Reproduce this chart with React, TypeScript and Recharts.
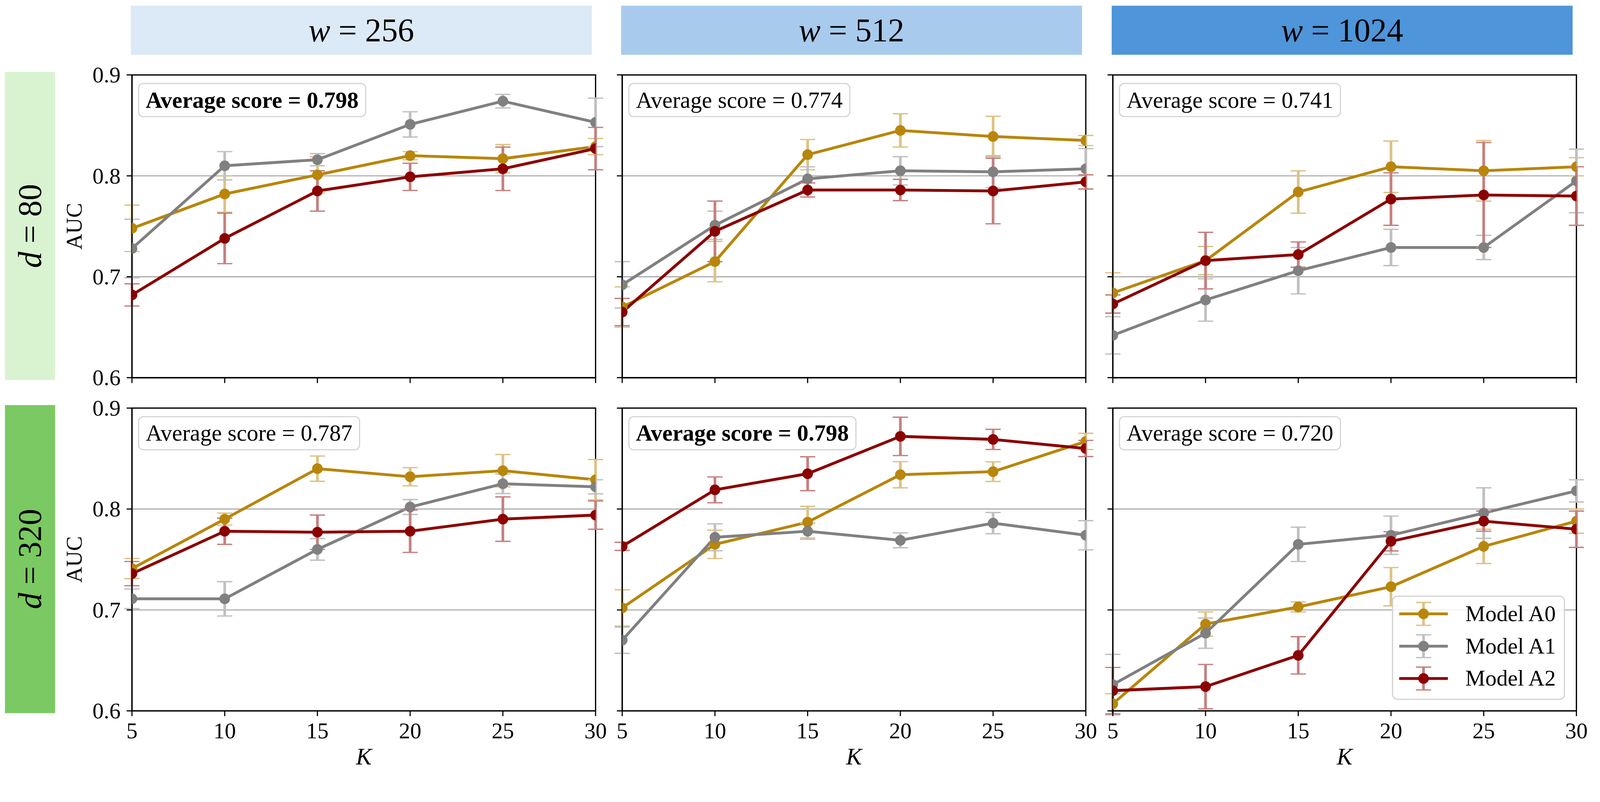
import React from 'react';
import { LineChart, Line, XAxis, YAxis, CartesianGrid, ErrorBar, Legend, ReferenceArea } from 'recharts';

// ---------- data ----------
const K_VALUES = [5, 10, 15, 20, 25, 30];
const Y_TICKS = [0.6, 0.7, 0.8, 0.9];
const GRID_VALUES = [0.7, 0.8];
const W_LABELS = ['256', '512', '1024'];
const D_LABELS = ['80', '320'];
const MODEL_NAMES = ['Model A0', 'Model A1', 'Model A2'];

// d = 80
const D80_W256_A0 = [0.748, 0.782, 0.801, 0.820, 0.817, 0.829];
const D80_W256_A0_ERR = [0.023, 0.018, 0.018, 0.004, 0.014, 0.008];
const D80_W256_A1 = [0.728, 0.810, 0.816, 0.851, 0.874, 0.853];
const D80_W256_A1_ERR = [0.029, 0.014, 0.006, 0.0125, 0.0067, 0.024];
const D80_W256_A2 = [0.682, 0.738, 0.785, 0.799, 0.807, 0.827];
const D80_W256_A2_ERR = [0.011, 0.025, 0.020, 0.0135, 0.0215, 0.021];

const D80_W512_A0 = [0.670, 0.715, 0.821, 0.845, 0.839, 0.835];
const D80_W512_A0_ERR = [0.020, 0.020, 0.015, 0.0165, 0.020, 0.005];
const D80_W512_A1 = [0.692, 0.751, 0.797, 0.805, 0.804, 0.807];
const D80_W512_A1_ERR = [0.023, 0.014, 0.012, 0.014, 0.016, 0.020];
const D80_W512_A2 = [0.665, 0.745, 0.786, 0.786, 0.785, 0.794];
const D80_W512_A2_ERR = [0.0135, 0.030, 0.007, 0.0105, 0.0325, 0.007];

const D80_W1024_A0 = [0.684, 0.716, 0.784, 0.809, 0.805, 0.809];
const D80_W1024_A0_ERR = [0.020, 0.014, 0.021, 0.0255, 0.030, 0.009];
const D80_W1024_A1 = [0.642, 0.677, 0.706, 0.729, 0.729, 0.795];
const D80_W1024_A1_ERR = [0.0185, 0.021, 0.023, 0.018, 0.012, 0.0315];
const D80_W1024_A2 = [0.673, 0.716, 0.722, 0.777, 0.781, 0.780];
const D80_W1024_A2_ERR = [0.009, 0.028, 0.0125, 0.026, 0.052, 0.029];

// d = 320
const D320_W256_A0 = [0.741, 0.790, 0.840, 0.832, 0.838, 0.829];
const D320_W256_A0_ERR = [0.010, 0.006, 0.0125, 0.009, 0.016, 0.020];
const D320_W256_A1 = [0.711, 0.711, 0.760, 0.802, 0.825, 0.822];
const D320_W256_A1_ERR = [0.0097, 0.017, 0.0107, 0.0074, 0.0097, 0.007];
const D320_W256_A2 = [0.736, 0.778, 0.777, 0.778, 0.790, 0.794];
const D320_W256_A2_ERR = [0.012, 0.013, 0.017, 0.021, 0.022, 0.014];

const D320_W512_A0 = [0.702, 0.765, 0.787, 0.834, 0.837, 0.867];
const D320_W512_A0_ERR = [0.018, 0.014, 0.0156, 0.013, 0.0097, 0.008];
const D320_W512_A1 = [0.670, 0.772, 0.778, 0.769, 0.786, 0.774];
const D320_W512_A1_ERR = [0.013, 0.0133, 0.008, 0.0074, 0.0105, 0.0145];
const D320_W512_A2 = [0.763, 0.819, 0.835, 0.872, 0.869, 0.860];
const D320_W512_A2_ERR = [0.004, 0.0128, 0.0168, 0.019, 0.010, 0.008];

const D320_W1024_A0 = [0.607, 0.686, 0.703, 0.723, 0.763, 0.788];
const D320_W1024_A0_ERR = [0.010, 0.012, 0.005, 0.019, 0.017, 0.012];
const D320_W1024_A1 = [0.626, 0.677, 0.765, 0.774, 0.796, 0.818];
const D320_W1024_A1_ERR = [0.030, 0.015, 0.017, 0.019, 0.025, 0.011];
const D320_W1024_A2 = [0.620, 0.624, 0.655, 0.768, 0.788, 0.780];
const D320_W1024_A2_ERR = [0.023, 0.022, 0.0185, 0.0095, 0.010, 0.018];

const AVG_SCORES = [
  ['0.798', '0.774', '0.741'],
  ['0.787', '0.798', '0.720'],
];
const AVG_BOLD = [
  [true, false, false],
  [false, true, false],
];

const PANEL_SERIES = [
  [
    { means: [D80_W256_A0, D80_W256_A1, D80_W256_A2], errs: [D80_W256_A0_ERR, D80_W256_A1_ERR, D80_W256_A2_ERR] },
    { means: [D80_W512_A0, D80_W512_A1, D80_W512_A2], errs: [D80_W512_A0_ERR, D80_W512_A1_ERR, D80_W512_A2_ERR] },
    { means: [D80_W1024_A0, D80_W1024_A1, D80_W1024_A2], errs: [D80_W1024_A0_ERR, D80_W1024_A1_ERR, D80_W1024_A2_ERR] },
  ],
  [
    { means: [D320_W256_A0, D320_W256_A1, D320_W256_A2], errs: [D320_W256_A0_ERR, D320_W256_A1_ERR, D320_W256_A2_ERR] },
    { means: [D320_W512_A0, D320_W512_A1, D320_W512_A2], errs: [D320_W512_A0_ERR, D320_W512_A1_ERR, D320_W512_A2_ERR] },
    { means: [D320_W1024_A0, D320_W1024_A1, D320_W1024_A2], errs: [D320_W1024_A0_ERR, D320_W1024_A1_ERR, D320_W1024_A2_ERR] },
  ],
];

// ---------- styles ----------
const FIG_W = 4207;
const FIG_H = 2053;
const FONT = '"Liberation Serif", "Times New Roman", "DejaVu Serif", serif';
const MODEL_COLORS = ['#b8860b', '#808080', '#8b0000'];
// error bar colours: the line colours at half opacity over white
const ERR_COLORS = ['#dcc385', '#c0c0c0', '#c58080'];
const HEADER_COLORS = ['#dce9f6', '#a8cbed', '#4f95da'];
const ROW_COLORS = ['#d9f2d0', '#7bc962'];

const COL_LEFT = [347, 1636, 2926];
const ROW_TOP = [197, 1073];
const PLOT_W = 1219;
const PLOT_H = 796;

const LINE_W = 7.5;
const DOT_R = 14;
const CAP_HALF = 20;
const CAP_W = 3.5;
const BAR_W = 7;
const FRAME_W = 3.3;
const TICK_FONT = 59;

function buildRows(panel) {
  return K_VALUES.map((k, i) => ({
    k,
    m0: panel.means[0][i], e0: panel.errs[0][i],
    m1: panel.means[1][i], e1: panel.errs[1][i],
    m2: panel.means[2][i], e2: panel.errs[2][i],
  }));
}

function XTick(props) {
  const { x, y, payload, show } = props;
  if (!show) return null;
  return (
    <text x={x} y={y + 58} textAnchor="middle" fontFamily={FONT} fontSize={TICK_FONT} fill="#000">
      {String(payload.value)}
    </text>
  );
}

function YTick(props) {
  const { x, y, payload, show } = props;
  if (!show) return null;
  return (
    <text x={x} y={y + 20} textAnchor="end" fontFamily={FONT} fontSize={TICK_FONT} fill="#000">
      {Number(payload.value).toFixed(1)}
    </text>
  );
}

function LegendIcon({ color, errColor }) {
  return (
    <svg width={130} height={84} style={{ display: 'block' }}>
      <line x1={64} x2={64} y1={12} y2={72} stroke={errColor} strokeWidth={BAR_W} />
      <line x1={64 - CAP_HALF} x2={64 + CAP_HALF} y1={12} y2={12} stroke={errColor} strokeWidth={CAP_W} />
      <line x1={64 - CAP_HALF} x2={64 + CAP_HALF} y1={72} y2={72} stroke={errColor} strokeWidth={CAP_W} />
      <line x1={0} x2={128} y1={42} y2={42} stroke={color} strokeWidth={LINE_W} />
      <circle cx={64} cy={42} r={DOT_R} fill={color} />
    </svg>
  );
}

function LegendBox(props) {
  const payload = props.payload || [];
  return (
    <div
      style={{
        width: 455,
        height: 274,
        boxSizing: 'border-box',
        border: '3px solid #d0d0d0',
        borderRadius: 14,
        background: 'rgba(255,255,255,0.85)',
        paddingTop: 2,
        fontFamily: FONT,
      }}
    >
      {payload.map((entry, i) => {
        const idx = MODEL_NAMES.indexOf(entry.value);
        return (
          <div key={i} style={{ display: 'flex', alignItems: 'center', height: 85, paddingLeft: 16 }}>
            <LegendIcon color={entry.color} errColor={ERR_COLORS[idx >= 0 ? idx : i]} />
            <span style={{ fontSize: 59, color: '#000', marginLeft: 44, lineHeight: 1 }}>{entry.value}</span>
          </div>
        );
      })}
    </div>
  );
}

function Panel({ row, col }) {
  const ml = col === 0 ? 247 : 40;
  const mt = 40;
  const mr = 40;
  const mb = row === 1 ? 120 : 40;
  const width = ml + PLOT_W + mr;
  const height = mt + PLOT_H + mb;
  const data = buildRows(PANEL_SERIES[row][col]);
  const showYLabels = col === 0;
  const showXLabels = row === 1;

  return (
    <div style={{ position: 'absolute', left: COL_LEFT[col] - ml, top: ROW_TOP[row] - mt, width, height }}>
      <LineChart width={width} height={height} data={data} margin={{ top: mt, right: mr, bottom: 0, left: 0 }}>
        <CartesianGrid vertical={false} horizontalValues={GRID_VALUES} stroke="#ababab" strokeWidth={3} />
        {[0, 1, 2].map((s) => (
          <Line
            key={s}
            type="linear"
            dataKey={`m${s}`}
            name={MODEL_NAMES[s]}
            stroke={MODEL_COLORS[s]}
            strokeWidth={LINE_W}
            dot={{ r: DOT_R, fill: MODEL_COLORS[s], stroke: MODEL_COLORS[s], strokeWidth: 0 }}
            activeDot={false}
            isAnimationActive={false}
          >
            <ErrorBar
              dataKey={`e${s}`}
              direction="y"
              width={0}
              stroke={ERR_COLORS[s]}
              strokeWidth={BAR_W}
              isAnimationActive={false}
            />
            <ErrorBar
              dataKey={`e${s}`}
              direction="y"
              width={CAP_HALF}
              stroke={ERR_COLORS[s]}
              strokeWidth={CAP_W}
              isAnimationActive={false}
            />
          </Line>
        ))}
        <ReferenceArea
          x1={5}
          x2={30}
          y1={0.6}
          y2={0.9}
          fill="none"
          fillOpacity={0}
          stroke="#000"
          strokeWidth={FRAME_W}
          ifOverflow="visible"
        />
        <XAxis
          dataKey="k"
          type="number"
          domain={[5, 30]}
          ticks={K_VALUES}
          interval={0}
          allowDataOverflow
          height={mb}
          tickSize={14}
          tickMargin={0}
          tick={<XTick show={showXLabels} />}
          axisLine={{ stroke: '#000', strokeWidth: FRAME_W }}
          tickLine={{ stroke: '#000', strokeWidth: 3 }}
        />
        <YAxis
          type="number"
          domain={[0.6, 0.9]}
          ticks={Y_TICKS}
          interval={0}
          allowDataOverflow
          width={ml}
          tickSize={14}
          tickMargin={16}
          tick={<YTick show={showYLabels} />}
          axisLine={{ stroke: '#000', strokeWidth: FRAME_W }}
          tickLine={{ stroke: '#000', strokeWidth: 3 }}
        />
        {row === 1 && col === 2 ? (
          <Legend
            layout="vertical"
            align="center"
            verticalAlign="middle"
            wrapperStyle={{ left: 774, top: 1566 - (ROW_TOP[1] - mt), width: 455, height: 274 }}
            content={(p) => <LegendBox {...p} />}
          />
        ) : null}
      </LineChart>
      <div
        style={{
          position: 'absolute',
          left: ml + 16,
          top: mt + 21,
          height: 90,
          boxSizing: 'border-box',
          display: 'flex',
          alignItems: 'center',
          padding: '0 17px',
          border: '3px solid #d4d4d4',
          borderRadius: 14,
          background: '#fff',
          fontFamily: FONT,
          fontSize: 60.5,
          fontWeight: AVG_BOLD[row][col] ? 'bold' : 'normal',
          color: '#000',
          whiteSpace: 'nowrap',
          zIndex: 2,
        }}
      >
        {`Average score = ${AVG_SCORES[row][col]}`}
      </div>
    </div>
  );
}

function getScale() {
  if (typeof window === 'undefined') return 1;
  const w = window.innerWidth || FIG_W;
  const h = window.innerHeight || FIG_H;
  return Math.min(1, w / FIG_W, h / FIG_H);
}

export default function App() {
  const scale = getScale();
  return (
    <div
      style={{
        position: 'absolute',
        left: 0,
        top: 0,
        width: FIG_W,
        height: FIG_H,
        background: '#fff',
        overflow: 'hidden',
        fontFamily: FONT,
        transform: `scale(${scale})`,
        transformOrigin: '0 0',
      }}
    >
      {W_LABELS.map((w, c) => (
        <div
          key={`h${c}`}
          style={{
            position: 'absolute',
            left: COL_LEFT[c] - 3,
            top: 15,
            width: 1212,
            height: 129,
            background: HEADER_COLORS[c],
            display: 'flex',
            alignItems: 'center',
            justifyContent: 'center',
            fontSize: 86,
            color: '#000',
            whiteSpace: 'nowrap',
          }}
        >
          <span>
            <span style={{ fontStyle: 'italic' }}>w</span>
            {' = '}
            {w}
          </span>
        </div>
      ))}
      {D_LABELS.map((d, r) => (
        <div
          key={`r${r}`}
          style={{
            position: 'absolute',
            left: 13,
            top: ROW_TOP[r] - 8,
            width: 132,
            height: PLOT_H + 14,
            overflow: 'hidden',
            background: ROW_COLORS[r],
            display: 'flex',
            alignItems: 'center',
            justifyContent: 'center',
          }}
        >
          <span
            style={{
              writingMode: 'vertical-rl',
              transform: 'rotate(180deg)',
              fontSize: 86,
              color: '#000',
              whiteSpace: 'nowrap',
              lineHeight: 1,
            }}
          >
            <span style={{ fontStyle: 'italic' }}>d</span>
            {' = '}
            {d}
          </span>
        </div>
      ))}
      {[0, 1].map((r) => (
        <div
          key={`auc${r}`}
          style={{
            position: 'absolute',
            left: 196,
            top: ROW_TOP[r] + PLOT_H / 2,
            transform: 'translate(-50%, -50%) rotate(-90deg)',
            fontSize: 58,
            lineHeight: 1,
            color: '#000',
            whiteSpace: 'nowrap',
            zIndex: 3,
          }}
        >
          AUC
        </div>
      ))}
      {[0, 1, 2].map((c) => (
        <div
          key={`k${c}`}
          style={{
            position: 'absolute',
            left: COL_LEFT[c] + PLOT_W / 2,
            top: 1989,
            transform: 'translate(-50%, -50%)',
            fontSize: 62,
            fontStyle: 'italic',
            lineHeight: 1,
            color: '#000',
            whiteSpace: 'nowrap',
            zIndex: 3,
          }}
        >
          K
        </div>
      ))}
      {[0, 1].map((r) => [0, 1, 2].map((c) => <Panel key={`p${r}${c}`} row={r} col={c} />))}
    </div>
  );
}
